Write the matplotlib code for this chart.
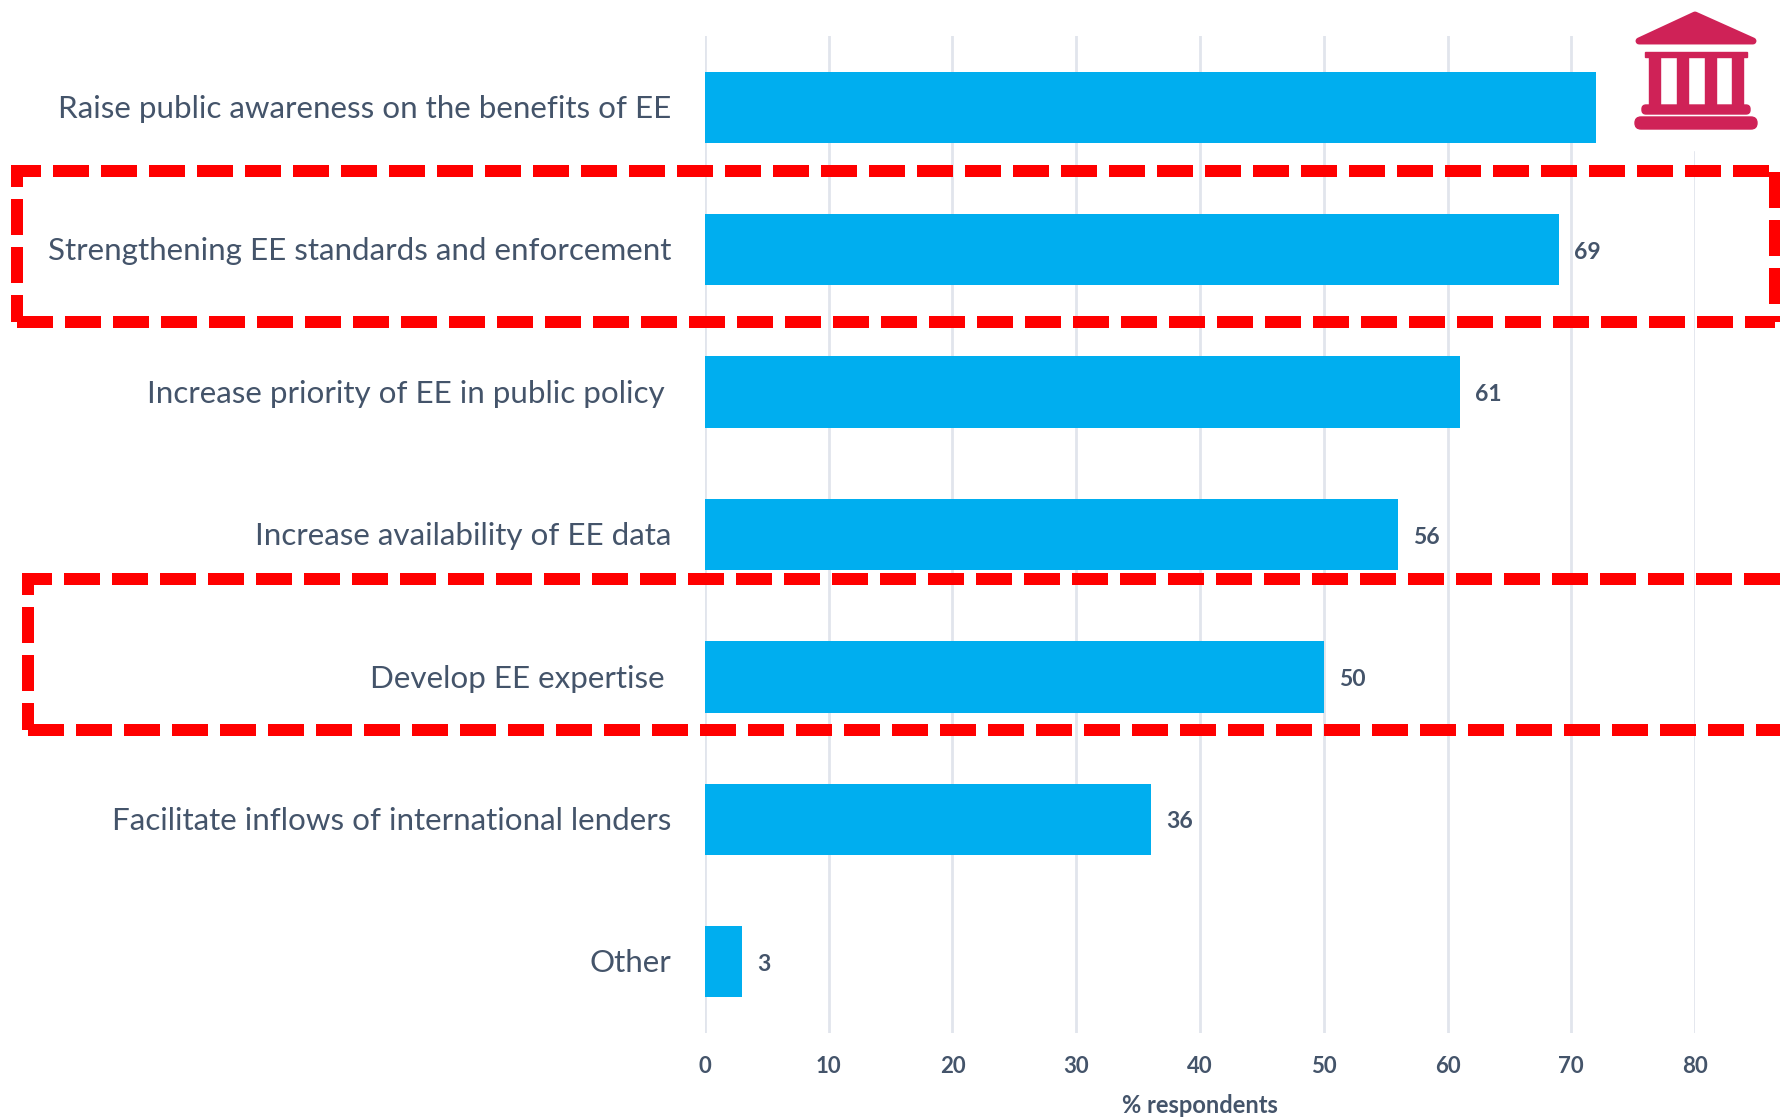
import matplotlib
matplotlib.use("Agg")
import matplotlib.pyplot as plt
from matplotlib.patches import FancyBboxPatch, Polygon, Rectangle

categories = [
    "Raise public awareness on the benefits of EE",
    "Strengthening EE standards and enforcement",
    "Increase priority of EE in public policy",
    "Increase availability of EE data",
    "Develop EE expertise",
    "Facilitate inflows of international lenders",
    "Other",
]
values = [72, 69, 61, 56, 50, 36, 3]
value_labels = ["", "69", "61", "56", "50", "36", "3"]
x_ticks = [0, 10, 20, 30, 40, 50, 60, 70, 80]

W, H = 1781, 1118
TEXT = "#44546a"
BLUE = "#00aeef"
RED = "#ff0000"
CRIMSON = "#cf2257"

plt.rcParams["font.family"] = ["Lato", "DejaVu Sans"]

fig = plt.figure(figsize=(W / 100, H / 100), dpi=100)
ax = fig.add_axes([705 / W, 1 - 1033 / H, 990 / W, 997 / H])

ax.barh(range(len(values)), values, height=0.5, color=BLUE, zorder=3)
ax.set_ylim(6.5, -0.5)
ax.set_xlim(0, 80)
ax.set_xticks(x_ticks)
ax.set_yticks([])
ax.grid(axis="x", color="#e1e5ec", linewidth=2)
ax.set_axisbelow(True)
for s in ax.spines.values():
    s.set_visible(False)
ax.tick_params(axis="x", length=0, pad=16.5, labelsize=16, labelcolor=TEXT)
for t in ax.get_xticklabels():
    t.set_fontweight("bold")
ax.set_xlabel("% respondents", fontsize=17, color=TEXT, fontweight="bold", labelpad=12.5)

# the labels are not all flush in the original
label_right = [-24, -24, -29, -24, -29, -24, -24]
for i, c in enumerate(categories):
    ax.annotate(c, (0, i), xytext=(label_right[i], -1.2), textcoords="offset points",
                ha="right", va="center", fontsize=22.6, color=TEXT)
for i, v in enumerate(values):
    ax.annotate(value_labels[i], (v, i), xytext=(11, -1.8), textcoords="offset points",
                ha="left", va="center", fontsize=16.5, color=TEXT, fontweight="bold")

overlay = fig.add_axes([0, 0, 1, 1], facecolor="none")
overlay.set_xlim(0, W)
overlay.set_ylim(H, 0)
overlay.axis("off")


def dashed_side(xs, ys, offset_px):
    # each side has its own dash phase in the original
    overlay.plot(xs, ys, color=RED, linewidth=8.64, linestyle=(offset_px / 12, (3, 1)),
                 dash_capstyle="butt", solid_capstyle="butt")


for (x0, y0, x1, y1) in [(17, 171, 1775, 322), (28, 579, 1785, 730)]:
    dashed_side([x0 - 6, x1], [y0, y0], 6)
    dashed_side([x0, x1], [y1, y1], 0)
    dashed_side([x0, x0], [y0, y1], 20)
    dashed_side([x1, x1], [y0, y1], 47)

# bank icon
overlay.add_patch(Rectangle((1625, 0), 156, 150, color="white", zorder=1))
overlay.add_patch(Polygon([(1695, 15), (1753, 41), (1639, 41)], closed=True, facecolor=CRIMSON,
                          edgecolor=CRIMSON, linewidth=5, joinstyle="round", zorder=2))
overlay.add_patch(Rectangle((1645, 52), 102, 5, color=CRIMSON, zorder=2))
for cx in [1649, 1677, 1705, 1732]:
    overlay.add_patch(Rectangle((cx, 56), 11, 50, color=CRIMSON, zorder=2))
overlay.add_patch(FancyBboxPatch((1642, 105), 108, 9, boxstyle="round,pad=0,rounding_size=4",
                                 color=CRIMSON, zorder=2))
overlay.add_patch(FancyBboxPatch((1635, 117), 122, 12, boxstyle="round,pad=0,rounding_size=6",
                                 color=CRIMSON, zorder=2))

fig.savefig("out.png", dpi=100)
